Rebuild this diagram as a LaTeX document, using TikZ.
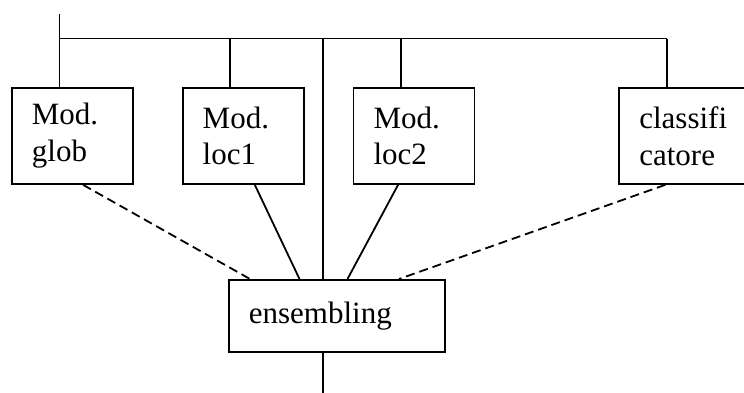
\documentclass[tikz,border=0pt]{standalone}
\usepackage{fontspec}
\setmainfont{Liberation Serif}
\usetikzlibrary{positioning}

\begin{document}
\begin{tikzpicture}[x=1pt,y=-1pt,
  node distance=48pt,
  box/.style={draw,line width=1.8pt,minimum height=96pt,text width=81pt,
    inner xsep=20pt,inner ysep=0pt,align=left,font=\fontsize{31}{36.7}\selectfont},
  wire/.style={line width=1.8pt},
  dashwire/.style={wire,dash pattern=on 9pt off 5pt}]
  \useasboundingbox (0,0) rectangle (744,392);
  \node[box,anchor=north west](glob) at (11,87){Mod.\\glob};
  \node[box,right=of glob](locA){Mod.\\loc1};
  \node[box,right=of locA](locB){Mod.\\loc2};
  \node[box,right=143pt of locB,text width=96pt](classif){classifi\\catore};
  \node[box,anchor=north west,minimum height=72pt,text width=176pt](ens) at (228,279){ensembling};
  \coordinate (bus) at (0,38.5);
  \coordinate (inlevel) at (0,14);
  \coordinate (outlevel) at (0,395);
  % drops from the bus
  \foreach \n in {glob,locA,locB,classif}
    \draw[wire] (\n.north west) ++(48.5,0) coordinate (\n-top) -- (\n-top |- bus);
  \draw[wire] (glob-top |- inlevel) -- (glob-top |- bus) -- (classif-top |- bus);
  \draw[wire] (ens.north west) ++(95,0) coordinate (ens-in) -- (ens-in |- bus);
  \draw[wire] (ens.south west) ++(95,0) coordinate (ens-out) -- (ens-out |- outlevel);
  % into the ensembling
  \draw[dashwire] ([xshift=72pt]glob.south west) -- ([xshift=22pt]ens.north west);
  \draw[wire] ([xshift=73pt]locA.south west) -- ([xshift=71.5pt]ens.north west);
  \draw[wire] ([xshift=45.5pt]locB.south west) -- ([xshift=119.5pt]ens.north west);
  \draw[dashwire] ([xshift=47pt]classif.south west) -- ([xshift=171pt]ens.north west);
\end{tikzpicture}
\end{document}
